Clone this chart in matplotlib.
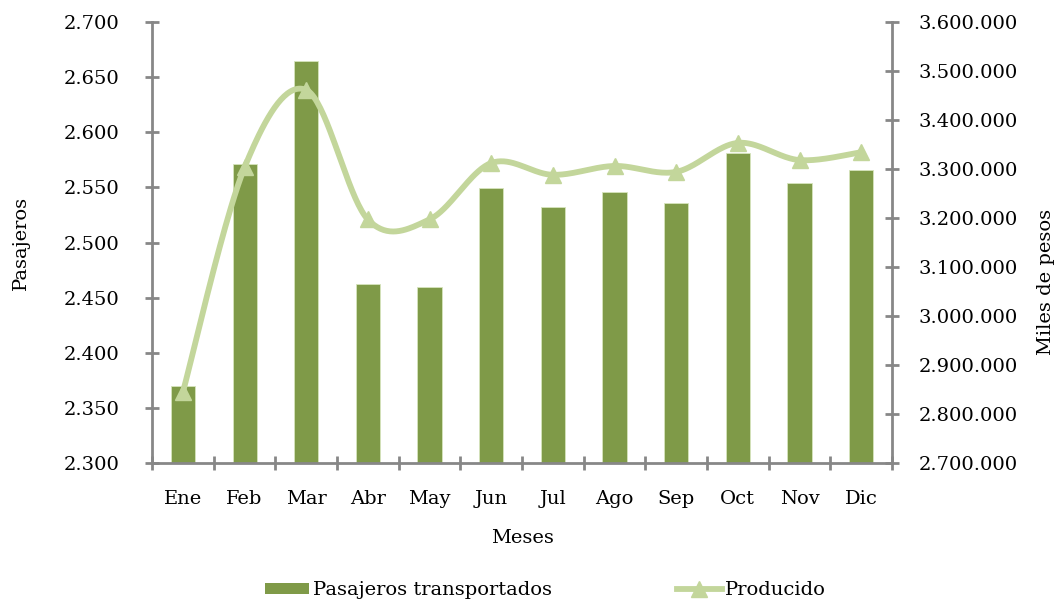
import numpy as np
import matplotlib
matplotlib.use("Agg")
import matplotlib.pyplot as plt
from matplotlib.ticker import FuncFormatter, FixedLocator
from matplotlib.lines import Line2D
from matplotlib.patches import Patch

meses = ["Ene", "Feb", "Mar", "Abr", "May", "Jun", "Jul", "Ago", "Sep", "Oct", "Nov", "Dic"]
pasajeros = [2.370, 2.571, 2.664, 2.462, 2.460, 2.549, 2.532, 2.546, 2.536, 2.581, 2.554, 2.566]
producido = [2845000, 3303000, 3461000, 3197000, 3197000, 3312000, 3288000, 3306000,
             3294000, 3353000, 3318000, 3334000]

bar_color = "#7F9A48"
line_color = "#C3D69B"
axis_gray = "#878787"
serif = ["DejaVu Serif"]
FS = 14


def smooth(xs, ys, n=40):
    xs = np.asarray(xs, float)
    ys = np.asarray(ys, float)
    P = np.column_stack([xs, ys])
    out = []
    m = len(P)
    for i in range(m - 1):
        p0 = P[i - 1] if i > 0 else P[i]
        p1 = P[i]
        p2 = P[i + 1]
        p3 = P[i + 2] if i + 2 < m else P[i + 1]
        c1 = p1 + (p2 - p0) / 6.0
        c2 = p2 - (p3 - p1) / 6.0
        t = np.linspace(0, 1, n)[:, None]
        seg = ((1 - t) ** 3) * p1 + 3 * ((1 - t) ** 2) * t * c1 + 3 * (1 - t) * t ** 2 * c2 + t ** 3 * p2
        out.append(seg if i == 0 else seg[1:])
    pts = np.vstack(out)
    return pts[:, 0], pts[:, 1]


fig = plt.figure(figsize=(10.58, 6.0), dpi=100)
ax = fig.add_axes([0.1437, 0.2278, 0.8431 - 0.1437, 0.9638 - 0.2278])
ax2 = ax.twinx()

x = np.arange(len(meses))
ax.bar(x, pasajeros, width=0.39, color=bar_color, edgecolor="#D7E4BD", linewidth=0.6, zorder=2)
ax.set_ylim(2.3, 2.7)
ax.set_xlim(-0.5, len(meses) - 0.5)
ax.set_yticks(np.arange(2.3, 2.7001, 0.05))
ax.yaxis.set_major_formatter(FuncFormatter(lambda v, p: f"{v:.3f}"))

sx, sy = smooth(x, producido)
ax2.plot(sx, sy, color=line_color, linewidth=4.2, solid_capstyle="round", zorder=3)
ax2.plot(x, producido, linestyle="none", marker="^", markersize=12, color=line_color, zorder=4)
ax2.set_ylim(2700000, 3600000)
ax2.set_yticks(np.arange(2700000, 3600001, 100000))
ax2.yaxis.set_major_formatter(FuncFormatter(lambda v, p: f"{int(round(v)):,}".replace(",", ".")))

for a in (ax, ax2):
    a.spines["top"].set_visible(False)
    for s in ("left", "right", "bottom"):
        a.spines[s].set_color(axis_gray)
        a.spines[s].set_linewidth(2.0)
ax.spines["right"].set_visible(False)
ax2.spines["left"].set_visible(False)
ax2.spines["bottom"].set_visible(False)

ax.set_xticks(x)
ax.set_xticklabels(meses, fontfamily=serif, fontsize=FS)
ax.xaxis.set_minor_locator(FixedLocator(np.arange(-0.5, len(meses), 1.0)))
ax.tick_params(axis="x", which="major", length=0, pad=19)
ax.tick_params(axis="x", which="minor", direction="inout", length=10, width=2, color=axis_gray)
ax.tick_params(axis="y", direction="inout", length=10, width=2, color=axis_gray, pad=18.5, labelsize=FS)
ax2.tick_params(axis="y", direction="inout", length=10, width=2, color=axis_gray, pad=14, labelsize=FS)
for lab in ax.get_yticklabels() + ax2.get_yticklabels():
    lab.set_fontfamily(serif)

ax.set_ylabel("Pasajeros", fontfamily=serif, fontsize=FS)
ax2.set_ylabel("Miles de pesos", fontfamily=serif, fontsize=FS, rotation=90)
ax.set_xlabel("Meses", fontfamily=serif, fontsize=FS, labelpad=15)
ax.yaxis.set_label_coords(-0.165, 0.5)
ax2.yaxis.set_label_coords(1.196, 0.41)

handles = [Patch(facecolor=bar_color, edgecolor="none"),
           Line2D([0], [0], color=line_color, linewidth=4.2, marker="^", markersize=12)]
fig.legend(handles, ["Pasajeros transportados", "Producido"], loc="lower center",
           bbox_to_anchor=(0.5156, -0.028), ncol=2, frameon=False,
           prop={"family": serif, "size": 14},
           handlelength=2.3, handleheight=0.55, handletextpad=0.2, columnspacing=6.4)

fig.savefig("out.png", dpi=100)
